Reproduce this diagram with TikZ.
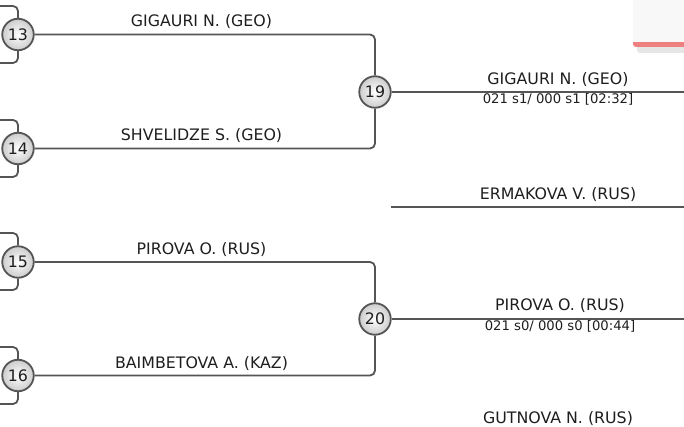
\documentclass[tikz,border=0pt]{standalone}
\usepackage{fontspec}
\setmainfont{DejaVu Sans}
\definecolor{lineg}{HTML}{555555}
\definecolor{txt}{HTML}{1E1E1E}
\definecolor{cardbg}{HTML}{F8F8F8}
\definecolor{redst}{HTML}{EF8080}
\definecolor{shadowg}{HTML}{E6E6E6}
\begin{document}
\begin{tikzpicture}[x=1pt,y=-1pt,
  conn/.style={draw=lineg, line width=1.8pt, rounded corners=5pt},
  seed/.style={circle, draw=lineg, line width=1.8pt, minimum size=31.5pt, inner sep=0pt,
    inner color=white, outer color=gray!40, text=txt, font=\fontsize{15.8}{16}\selectfont},
  pname/.style={anchor=base, font=\fontsize{15.8}{16}\selectfont, text=txt},
  pscore/.style={anchor=base, font=\fontsize{13.2}{14}\selectfont, text=txt}]
\useasboundingbox (0,0) rectangle (684,427);

% card in the top right corner
\fill[shadowg, rounded corners=3pt] (637,-5) rectangle (690,53);
\fill[redst, rounded corners=3pt] (633,-5) rectangle (690,47);
\fill[cardbg] (633,-5) rectangle (690,42);

% seeds
\node[seed] (s13) at (18,34.5) {13};
\node[seed] (s14) at (18,148.5) {14};
\node[seed] (s15) at (18,262) {15};
\node[seed] (s16) at (18,375.5) {16};
\node[seed] (s19) at (375,92) {19};
\node[seed] (s20) at (375,319) {20};

% bracket stubs on the left
\coordinate (b13t) at (0,6);   \coordinate (b13b) at (0,63);
\coordinate (b14t) at (0,120); \coordinate (b14b) at (0,177);
\coordinate (b15t) at (0,233); \coordinate (b15b) at (0,290);
\coordinate (b16t) at (0,347); \coordinate (b16b) at (0,404);
\draw[conn] (b13t) -| (s13.north);
\draw[conn] (s13.south) |- (b13b);
\draw[conn] (b14t) -| (s14.north);
\draw[conn] (s14.south) |- (b14b);
\draw[conn] (b15t) -| (s15.north);
\draw[conn] (s15.south) |- (b15b);
\draw[conn] (b16t) -| (s16.north);
\draw[conn] (s16.south) |- (b16b);

% connectors
\draw[conn] (s13.east) -| (s19.north);
\draw[conn] (s14.east) -| (s19.south);
\draw[conn] (s15.east) -| (s20.north);
\draw[conn] (s16.east) -| (s20.south);
\coordinate (e19) at (686,92);
\coordinate (e20) at (686,319);
\draw[conn] (s19.east) -- (e19);
\draw[conn] (s20.east) -- (e20);
\coordinate (ea) at (391,207);
\coordinate (eb) at (686,207);
\draw[conn] (ea) -- (eb);

% names
\node[pname] (n13) at (201.5,27) {GIGAURI N. (GEO)};
\node[pname] (n14) at (201.5,141) {SHVELIDZE S. (GEO)};
\node[pname] (n15) at (201.5,254.5) {PIROVA O. (RUS)};
\node[pname] (n16) at (201.5,368) {BAIMBETOVA A. (KAZ)};
\node[pname] (n19) at (558,85) {GIGAURI N. (GEO)};
\node[pscore] (c19) at (558,104) {021 s1/ 000 s1 [02:32]};
\node[pname] (ne) at (558,199.5) {ERMAKOVA V. (RUS)};
\node[pname] (n20) at (560,310) {PIROVA O. (RUS)};
\node[pscore] (c20) at (560,330) {021 s0/ 000 s0 [00:44]};
\node[pname] (ng) at (558,423.3) {GUTNOVA N. (RUS)};
\end{tikzpicture}
\end{document}
